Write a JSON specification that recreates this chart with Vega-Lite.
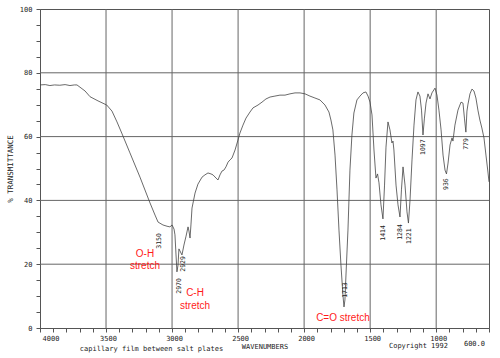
{
  "$schema": "https://vega.github.io/schema/vega-lite/v6.json",
  "width": 449,
  "height": 319,
  "autosize": "none",
  "padding": {"left": 40, "top": 9, "right": 11, "bottom": 30},
  "background": "white",
  "config": {
    "view": {"stroke": "#555", "strokeWidth": 1},
    "font": "DejaVu Sans Mono",
    "axis": {
      "labelFont": "DejaVu Sans Mono", "labelFontSize": 7, "labelColor": "#222",
      "titleFont": "DejaVu Sans Mono", "titleFontWeight": "normal", "titleColor": "#222",
      "tickSize": 4, "tickColor": "#555", "domainColor": "#555", "grid": false, "labelOverlap": false
    }
  },
  "datasets": {
    "spectrum": [
      {"wn": 4000, "t": 76.2}, {"wn": 3960, "t": 76.3}, {"wn": 3925, "t": 76.0}, {"wn": 3890, "t": 76.2},
      {"wn": 3850, "t": 76.1}, {"wn": 3810, "t": 76.3}, {"wn": 3773, "t": 76.0}, {"wn": 3740, "t": 76.2},
      {"wn": 3720, "t": 76.2}, {"wn": 3659, "t": 74.3}, {"wn": 3621, "t": 72.5}, {"wn": 3561, "t": 71.2},
      {"wn": 3495, "t": 69.9}, {"wn": 3455, "t": 68.0}, {"wn": 3417, "t": 64.6}, {"wn": 3381, "t": 61.1},
      {"wn": 3319, "t": 54.9}, {"wn": 3243, "t": 47.3}, {"wn": 3167, "t": 39.2}, {"wn": 3129, "t": 35.4},
      {"wn": 3106, "t": 33.2}, {"wn": 3069, "t": 32.3}, {"wn": 3038, "t": 31.9}, {"wn": 3016, "t": 31.7},
      {"wn": 3000, "t": 32.3}, {"wn": 2985, "t": 31.0}, {"wn": 2978, "t": 29.2}, {"wn": 2970, "t": 22.9},
      {"wn": 2963, "t": 17.6}, {"wn": 2955, "t": 19.7}, {"wn": 2948, "t": 24.8}, {"wn": 2925, "t": 22.9},
      {"wn": 2910, "t": 26.0}, {"wn": 2894, "t": 28.8}, {"wn": 2879, "t": 31.7}, {"wn": 2872, "t": 30.4},
      {"wn": 2864, "t": 28.2}, {"wn": 2857, "t": 32.3}, {"wn": 2849, "t": 37.6}, {"wn": 2826, "t": 42.3},
      {"wn": 2804, "t": 45.1}, {"wn": 2773, "t": 47.3}, {"wn": 2751, "t": 48.0}, {"wn": 2728, "t": 48.6},
      {"wn": 2705, "t": 48.3}, {"wn": 2690, "t": 48.0}, {"wn": 2667, "t": 47.0}, {"wn": 2652, "t": 46.4},
      {"wn": 2637, "t": 48.0}, {"wn": 2622, "t": 49.2}, {"wn": 2607, "t": 49.5}, {"wn": 2592, "t": 50.5},
      {"wn": 2576, "t": 52.0}, {"wn": 2561, "t": 52.7}, {"wn": 2546, "t": 53.3}, {"wn": 2523, "t": 55.8},
      {"wn": 2501, "t": 58.9}, {"wn": 2486, "t": 61.1}, {"wn": 2463, "t": 63.6}, {"wn": 2440, "t": 65.8},
      {"wn": 2410, "t": 67.7}, {"wn": 2387, "t": 69.0}, {"wn": 2349, "t": 69.9}, {"wn": 2319, "t": 70.8},
      {"wn": 2289, "t": 71.8}, {"wn": 2258, "t": 72.4}, {"wn": 2221, "t": 72.7}, {"wn": 2183, "t": 73.0},
      {"wn": 2145, "t": 73.0}, {"wn": 2107, "t": 73.4}, {"wn": 2069, "t": 73.7}, {"wn": 2031, "t": 73.7},
      {"wn": 1993, "t": 73.4}, {"wn": 1956, "t": 72.7}, {"wn": 1918, "t": 72.1}, {"wn": 1880, "t": 71.5},
      {"wn": 1842, "t": 69.9}, {"wn": 1812, "t": 67.7}, {"wn": 1797, "t": 65.2}, {"wn": 1782, "t": 62.1},
      {"wn": 1766, "t": 54.2}, {"wn": 1751, "t": 43.3}, {"wn": 1736, "t": 30.7}, {"wn": 1721, "t": 19.7},
      {"wn": 1706, "t": 10.3}, {"wn": 1698, "t": 6.6}, {"wn": 1691, "t": 8.8}, {"wn": 1683, "t": 16.6},
      {"wn": 1668, "t": 30.7}, {"wn": 1653, "t": 49.5}, {"wn": 1638, "t": 60.5}, {"wn": 1623, "t": 67.4},
      {"wn": 1600, "t": 71.5}, {"wn": 1577, "t": 72.7}, {"wn": 1554, "t": 73.7}, {"wn": 1532, "t": 74.0},
      {"wn": 1516, "t": 72.7}, {"wn": 1501, "t": 70.8}, {"wn": 1486, "t": 66.8}, {"wn": 1471, "t": 55.8},
      {"wn": 1456, "t": 47.0}, {"wn": 1444, "t": 48.3}, {"wn": 1433, "t": 45.5}, {"wn": 1418, "t": 38.6},
      {"wn": 1403, "t": 34.2}, {"wn": 1391, "t": 44.8}, {"wn": 1380, "t": 56.7}, {"wn": 1365, "t": 64.6},
      {"wn": 1350, "t": 62.1}, {"wn": 1335, "t": 58.0}, {"wn": 1327, "t": 58.6}, {"wn": 1320, "t": 55.8},
      {"wn": 1304, "t": 44.8}, {"wn": 1289, "t": 38.6}, {"wn": 1274, "t": 34.8}, {"wn": 1263, "t": 43.3},
      {"wn": 1251, "t": 50.5}, {"wn": 1236, "t": 44.8}, {"wn": 1221, "t": 36.4}, {"wn": 1210, "t": 32.9},
      {"wn": 1198, "t": 40.1}, {"wn": 1183, "t": 52.7}, {"wn": 1168, "t": 63.6}, {"wn": 1153, "t": 71.5},
      {"wn": 1138, "t": 74.0}, {"wn": 1123, "t": 72.7}, {"wn": 1111, "t": 68.3}, {"wn": 1100, "t": 60.5},
      {"wn": 1089, "t": 65.8}, {"wn": 1077, "t": 70.5}, {"wn": 1062, "t": 73.4}, {"wn": 1047, "t": 71.8},
      {"wn": 1032, "t": 73.7}, {"wn": 1009, "t": 75.2}, {"wn": 994, "t": 73.0}, {"wn": 979, "t": 68.3},
      {"wn": 963, "t": 62.1}, {"wn": 948, "t": 54.2}, {"wn": 933, "t": 49.5}, {"wn": 922, "t": 48.3},
      {"wn": 910, "t": 51.7}, {"wn": 895, "t": 57.4}, {"wn": 880, "t": 59.6}, {"wn": 873, "t": 58.6},
      {"wn": 858, "t": 63.6}, {"wn": 835, "t": 68.3}, {"wn": 812, "t": 70.8}, {"wn": 797, "t": 70.5},
      {"wn": 786, "t": 65.8}, {"wn": 775, "t": 61.4}, {"wn": 767, "t": 68.0}, {"wn": 759, "t": 70.2},
      {"wn": 744, "t": 73.4}, {"wn": 729, "t": 74.9}, {"wn": 714, "t": 74.3}, {"wn": 699, "t": 72.1},
      {"wn": 684, "t": 68.3}, {"wn": 669, "t": 65.2}, {"wn": 654, "t": 62.7}, {"wn": 638, "t": 59.6},
      {"wn": 623, "t": 54.2}, {"wn": 608, "t": 48.9}, {"wn": 600, "t": 45.8}
    ],
    "vgrid": [
      {"wn": 3500, "t": 0, "t2": 100}, {"wn": 3000, "t": 0, "t2": 100}, {"wn": 2500, "t": 0, "t2": 100},
      {"wn": 2000, "t": 0, "t2": 100}, {"wn": 1500, "t": 0, "t2": 100}, {"wn": 1000, "t": 0, "t2": 100}
    ],
    "hgrid": [
      {"t": 20, "wn": 4000, "wn2": 600}, {"t": 40, "wn": 4000, "wn2": 600},
      {"t": 60, "wn": 4000, "wn2": 600}, {"t": 80, "wn": 4000, "wn2": 600}
    ],
    "peaks": [
      {"wn": 3099, "t": 27.3, "label": "3150"},
      {"wn": 2948, "t": 13.2, "label": "2970"},
      {"wn": 2917, "t": 20.1, "label": "2929"},
      {"wn": 1691, "t": 11.9, "label": "1713"},
      {"wn": 1403, "t": 29.8, "label": "1414"},
      {"wn": 1274, "t": 30.1, "label": "1284"},
      {"wn": 1206, "t": 28.8, "label": "1221"},
      {"wn": 1100, "t": 56.7, "label": "1097"},
      {"wn": 926, "t": 45.1, "label": "936"},
      {"wn": 774, "t": 57.7, "label": "779"}
    ],
    "notes": [
      {"wn": 3205, "t": 23.2, "label": "O-H"},
      {"wn": 3205, "t": 19.4, "label": "stretch"},
      {"wn": 2826, "t": 11.0, "label": "C-H"},
      {"wn": 2826, "t": 6.9, "label": "stretch"},
      {"wn": 1706, "t": 3.1, "label": "C=O stretch"}
    ],
    "footer": [
      {"wn": 3156, "t": -6.6, "label": "capillary film between salt plates"},
      {"wn": 1134, "t": -5.6, "label": "Copyright 1992"},
      {"wn": 710, "t": -5.0, "label": "600.0"}
    ]
  },
  "encoding": {
    "x": {
      "field": "wn", "type": "quantitative",
      "scale": {"domain": [600, 4000], "reverse": true, "nice": false, "zero": false},
      "axis": {
        "title": "WAVENUMBERS",
        "titleFontSize": 7, "titlePadding": 1,
        "values": [4000, 3900, 3800, 3700, 3600, 3500, 3400, 3300, 3200, 3100, 3000, 2900, 2800, 2700, 2600, 2500, 2400, 2300, 2200, 2100, 2000, 1900, 1800, 1700, 1600, 1500, 1400, 1300, 1200, 1100, 1000, 900, 800, 700, 600],
        "labelExpr": "datum.value % 500 === 0 && datum.value >= 1000 ? format(datum.value, 'd') : ''",
        "labelPadding": 2, "labelOffset": 2, "labelOverlap": false, "labelFlush": true
      }
    },
    "y": {
      "field": "t", "type": "quantitative",
      "scale": {"domain": [0, 100], "nice": false, "zero": false},
      "axis": {
        "title": "% TRANSMITTANCE",
        "titleFontSize": 7.5, "titlePadding": 5,
        "values": [0, 5, 10, 15, 20, 25, 30, 35, 40, 45, 50, 55, 60, 65, 70, 75, 80, 85, 90, 95, 100],
        "labelExpr": "datum.value % 20 === 0 ? format(datum.value, 'd') : ''",
        "labelPadding": 4, "labelOverlap": false, "labelFlush": false
      }
    }
  },
  "layer": [
    {
      "data": {"name": "vgrid"},
      "mark": {"type": "rule", "color": "#666", "strokeWidth": 1},
      "encoding": {"y2": {"field": "t2"}}
    },
    {
      "data": {"name": "hgrid"},
      "mark": {"type": "rule", "color": "#666", "strokeWidth": 1},
      "encoding": {"x2": {"field": "wn2"}}
    },
    {
      "data": {"name": "spectrum"},
      "mark": {"type": "line", "color": "#444", "strokeWidth": 0.8},
      "encoding": {}
    },
    {
      "data": {"name": "peaks"},
      "mark": {"type": "text", "angle": 270, "font": "DejaVu Sans Mono", "fontSize": 6.5, "color": "#222", "align": "center", "baseline": "middle"},
      "encoding": {"text": {"field": "label"}}
    },
    {
      "data": {"name": "notes"},
      "mark": {"type": "text", "font": "Liberation Sans", "fontSize": 10, "color": "#ff1a1a", "align": "center", "baseline": "middle"},
      "encoding": {"text": {"field": "label"}}
    },
    {
      "data": {"name": "footer"},
      "mark": {"type": "text", "font": "DejaVu Sans Mono", "fontSize": 7, "color": "#222", "align": "center", "baseline": "middle"},
      "encoding": {"text": {"field": "label"}}
    }
  ]
}
